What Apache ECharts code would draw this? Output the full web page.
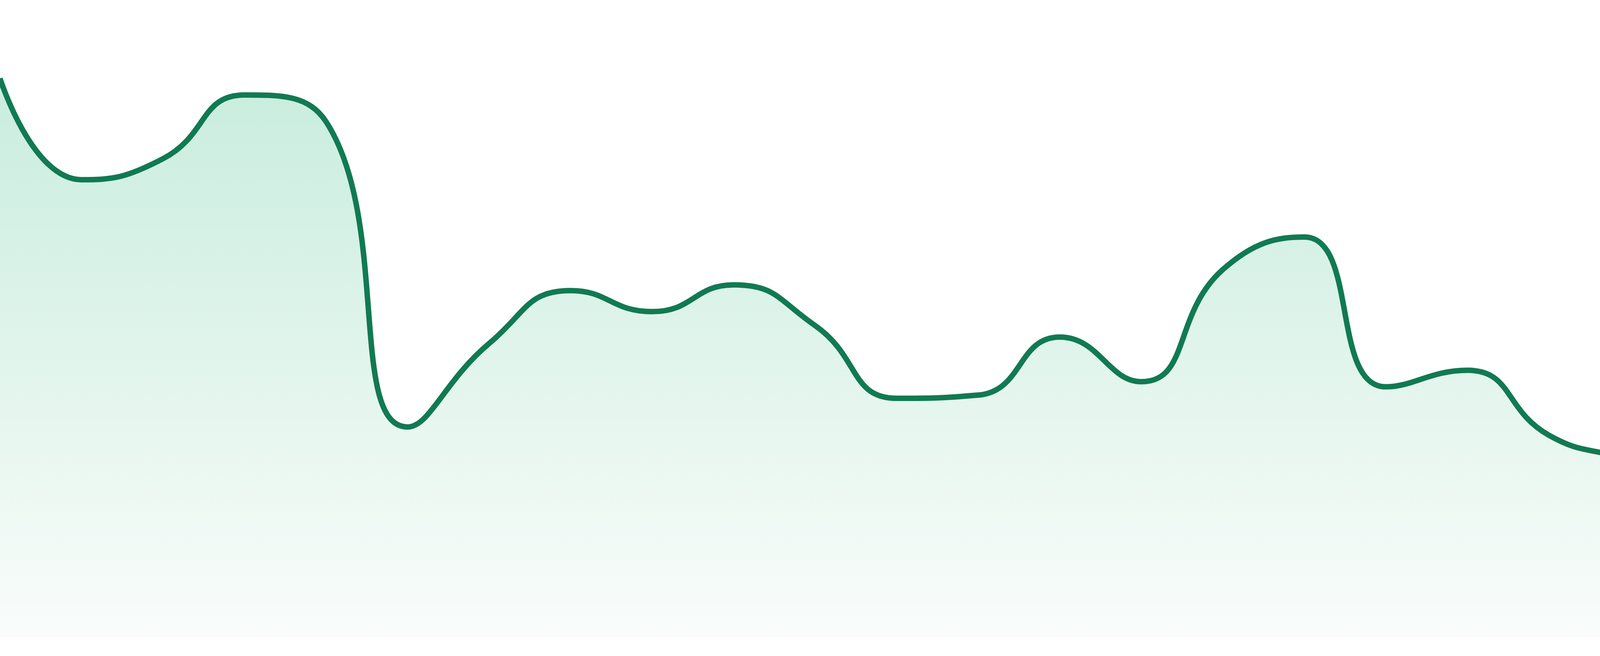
<!DOCTYPE html>
<html>
<head>
<meta charset="utf-8">
<script src="https://cdn.jsdelivr.net/npm/echarts@6/dist/echarts.min.js"></script>
<style>
html, body { margin: 0; padding: 0; background: #ffffff; }
#chart { width: 4800px; height: 1680px; }
</style>
</head>
<body>
<div id="chart"></div>
<script>
const categories = ['1','2','3','4','5','6','7','8','9','10','11','12','13','14','15','16','17','18','19','20','21','22','23','24'];
const values = [87.7, 71.8, 75.1, 85.1, 80.9, 33.0, 46.1, 54.4, 51.1, 55.3, 48.9, 37.5, 38.0, 47.1, 40.1, 57.7, 62.8, 39.3, 41.9, 31.7, 27.5, 21.0, 34.3, 48.5];
const yMin = 0;
const yMax = 100;

const chart = echarts.init(document.getElementById('chart'), null, { renderer: 'canvas' });
chart.setOption({
  animation: false,
  backgroundColor: '#ffffff',
  grid: { left: 0, right: 0, top: 0, bottom: 48, containLabel: false },
  xAxis: {
    type: 'category',
    data: categories,
    boundaryGap: false,
    show: false
  },
  yAxis: {
    type: 'value',
    min: yMin,
    max: yMax,
    show: false,
    splitLine: { show: false }
  },
  series: [{
    type: 'line',
    data: values,
    smooth: true,
    symbol: 'none',
    lineStyle: { color: '#117a52', width: 14 },
    areaStyle: {
      color: new echarts.graphic.LinearGradient(0, 0, 0, 1, [
        { offset: 0, color: '#b1e5cf' },
        { offset: 1, color: '#f7fbf9' }
      ])
    }
  }]
});
</script>
</body>
</html>
